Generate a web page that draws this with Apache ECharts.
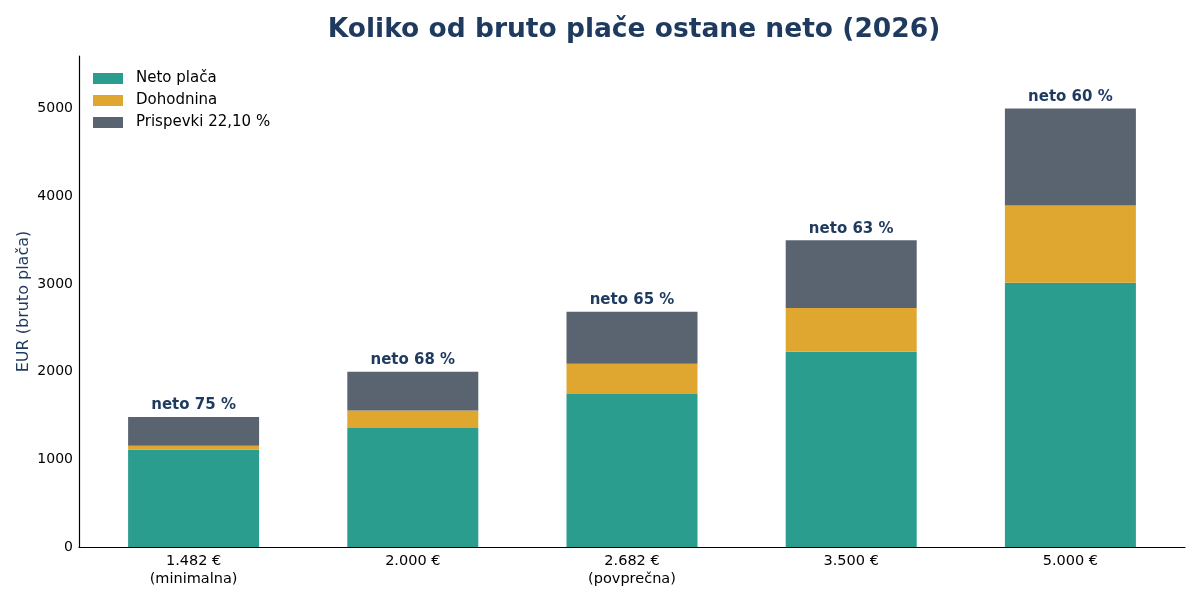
<!DOCTYPE html>
<html>
<head>
<meta charset="utf-8">
<script src="https://cdn.jsdelivr.net/npm/echarts@6/dist/echarts.min.js"></script>
<style>
  html, body { margin: 0; padding: 0; background: #fff; }
  #chart { width: 1200px; height: 600px; }
</style>
</head>
<body>
<div id="chart"></div>
<script>
var categories = ['1.482 €\n(minimalna)', '2.000 €', '2.682 €\n(povprečna)', '3.500 €', '5.000 €'];
var netoValues = [1110, 1358, 1745, 2226, 3014];
var dohodninaValues = [45, 200, 344, 501, 881];
var prispevkiValues = [327, 442, 593, 773, 1105];
var netoLabels = ['neto 75 %', 'neto 68 %', 'neto 65 %', 'neto 63 %', 'neto 60 %'];

var font = 'DejaVu Sans';
var navy = '#1f3a5f';
var yMax = 5600;

var myChart = echarts.init(document.getElementById('chart'));

// grid 0 only draws the frame (axis lines, y labels); grid 1 is a little
// narrower so the bars get matplotlib-like outer margins
myChart.setOption({
  animation: false,
  textStyle: { fontFamily: font },
  title: {
    text: 'Koliko od bruto plače ostane neto (2026)',
    left: 629,
    textAlign: 'center',
    top: 12,
    textStyle: { fontFamily: font, fontSize: 26.5, fontWeight: 'bold', color: navy }
  },
  legend: {
    left: 88,
    top: 66,
    orient: 'vertical',
    itemWidth: 30,
    itemHeight: 11,
    itemGap: 7,
    icon: 'rect',
    textStyle: { fontFamily: font, fontSize: 15, color: '#000', padding: [0, 0, 0, 8] },
    data: ['Neto plača', 'Dohodnina', 'Prispevki 22,10 %']
  },
  grid: [
    { left: 79, right: 15, top: 56, bottom: 53 },
    { left: 84, right: 20, top: 56, bottom: 53 }
  ],
  xAxis: [
    {
      gridIndex: 0,
      type: 'value',
      min: 0,
      max: 1,
      axisLine: { show: true, onZero: false, lineStyle: { color: '#000', width: 1.2 } },
      axisTick: { show: false },
      axisLabel: { show: false },
      splitLine: { show: false }
    },
    {
      gridIndex: 1,
      type: 'category',
      data: categories,
      axisLine: { show: false },
      axisTick: { show: false },
      axisLabel: { color: '#000', fontSize: 14.5, fontFamily: font, margin: 5, lineHeight: 18 }
    }
  ],
  yAxis: [
    {
      gridIndex: 0,
      type: 'value',
      min: 0,
      max: yMax,
      interval: 1000,
      name: 'EUR (bruto plača)',
      nameLocation: 'middle',
      nameGap: 47,
      nameMoveOverlap: false,
      nameTextStyle: { fontFamily: font, fontSize: 16, color: navy },
      axisLine: { show: true, onZero: false, lineStyle: { color: '#000', width: 1.2 } },
      axisTick: { show: false },
      splitLine: { show: false },
      axisLabel: {
        color: '#000', fontSize: 14, fontFamily: font, margin: 6, showMaxLabel: false,
        formatter: function (v) { return String(v); }
      }
    },
    {
      gridIndex: 1,
      type: 'value',
      min: 0,
      max: yMax,
      show: false,
      splitLine: { show: false }
    }
  ],
  series: [
    {
      name: 'Neto plača',
      type: 'bar',
      stack: 'bruto',
      xAxisIndex: 1,
      yAxisIndex: 1,
      barWidth: 131,
      itemStyle: { color: '#2a9d8f' },
      data: netoValues
    },
    {
      name: 'Dohodnina',
      type: 'bar',
      stack: 'bruto',
      xAxisIndex: 1,
      yAxisIndex: 1,
      barWidth: 131,
      itemStyle: { color: '#e0a730' },
      data: dohodninaValues
    },
    {
      name: 'Prispevki 22,10 %',
      type: 'bar',
      stack: 'bruto',
      xAxisIndex: 1,
      yAxisIndex: 1,
      barWidth: 131,
      itemStyle: { color: '#5a6470' },
      label: {
        show: true,
        position: 'top',
        distance: 4,
        fontFamily: font,
        fontSize: 15,
        fontWeight: 'bold',
        color: navy,
        formatter: function (p) { return netoLabels[p.dataIndex]; }
      },
      data: prispevkiValues
    }
  ]
});
</script>
</body>
</html>
